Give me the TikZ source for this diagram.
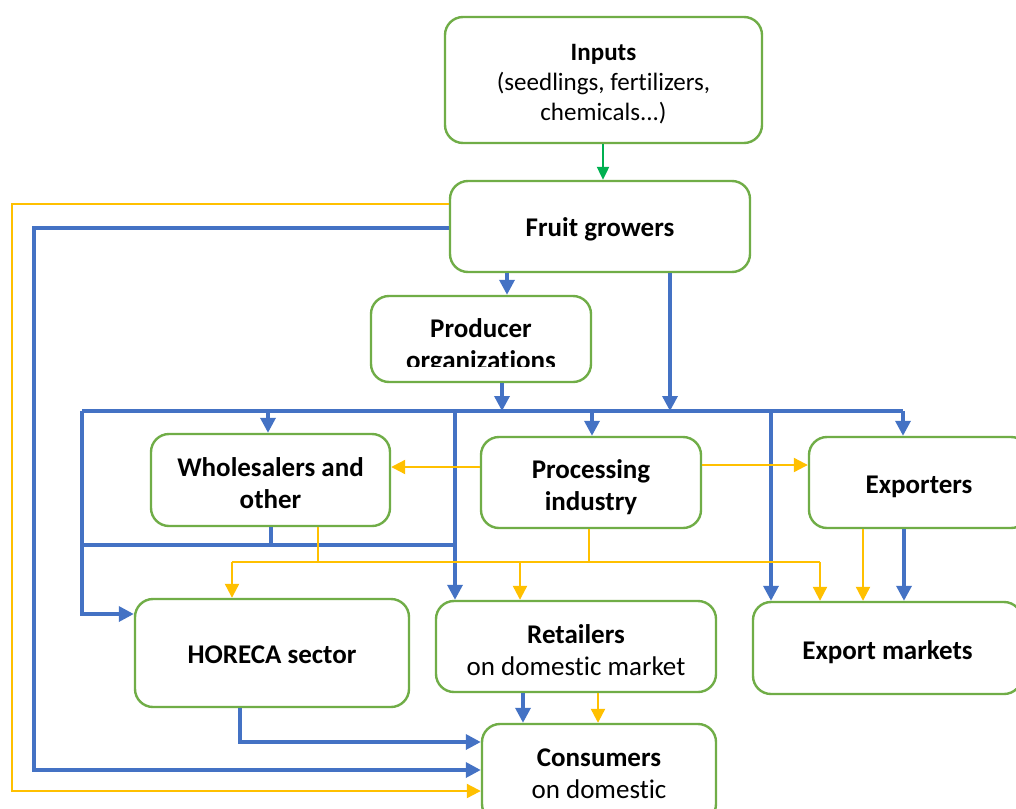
\documentclass[tikz,border=0pt]{standalone}
\usepackage{fontspec}
\setmainfont{Carlito}[RawFeature={-liga}]
\usetikzlibrary{arrows.meta}
\definecolor{boxgreen}{HTML}{70AD47}
\definecolor{flowblue}{HTML}{4472C4}
\definecolor{flowyellow}{HTML}{FFC000}
\definecolor{flowgreen}{HTML}{00B050}
\tikzset{
  box/.style={draw=boxgreen, line width=2.4pt, rounded corners=18pt, fill=white, inner sep=0pt},
  txt/.style={align=center, inner sep=0pt, font=\fontsize{27}{32}\selectfont},
  smalltxt/.style={align=center, inner sep=0pt, font=\fontsize{25}{30}\selectfont},
  bl/.style={draw=flowblue, line width=3.4pt},
  yl/.style={draw=flowyellow, line width=2.2pt},
  blarrow/.style={bl, -{Triangle[width=15pt,length=15pt]}},
  ylarrow/.style={yl, -{Triangle[width=14pt,length=14pt]}},
  grarrow/.style={draw=flowgreen, line width=2.2pt, -{Triangle[width=12pt,length=13pt]}},
}
\begin{document}
\begin{tikzpicture}[x=1pt,y=-1pt]
\useasboundingbox (0,0) rectangle (1016,808);
\clip (0,0) rectangle (1016,808);
\fill[white] (0,0) rectangle (1016,808);

% boxes
\node[box, minimum width=317pt, minimum height=126pt] (inputs) at (603.5,80) {};
\node[box, minimum width=300pt, minimum height=91pt] (fruit) at (600,226.5) {};
\node[box, minimum width=220pt, minimum height=86pt] (prod) at (481,339) {};
\node[box, minimum width=239pt, minimum height=92pt] (whole) at (270.5,480) {};
\node[box, minimum width=220pt, minimum height=91pt] (proc) at (591,482.5) {};
\node[box, minimum width=220pt, minimum height=91pt] (exp) at (919,482.5) {};
\node[box, minimum width=274pt, minimum height=108pt] (horeca) at (272,653) {};
\node[box, minimum width=280pt, minimum height=91pt] (retail) at (576,646.5) {};
\node[box, minimum width=269pt, minimum height=92pt] (expm) at (887.5,648) {};
\node[box, minimum width=234pt, minimum height=98pt] (cons) at (599,773) {};

% box texts
\node[smalltxt] (inputs-t) at ([yshift=-4pt]inputs.center)
  {\textbf{Inputs}\\(seedlings, fertilizers,\\chemicals...)};
\node[txt] (fruit-t) at ([yshift=-3pt]fruit.center) {\textbf{Fruit growers}};
\begin{scope}
  \clip (371,296) rectangle (591,366);
  \node[txt, font=\fontsize{27}{32}\selectfont\bfseries] (prod-t) at (481,346)
    {Producer\\organizations};
\end{scope}
\node[txt] (whole-t) at ([yshift=-3.5pt]whole.center) {\textbf{Wholesalers and}\\\textbf{other}};
\node[txt] (proc-t) at ([yshift=-5pt]proc.center) {\textbf{Processing}\\\textbf{industry}};
\node[txt] (exp-t) at ([yshift=-4pt]exp.center) {\textbf{Exporters}};
\node[txt] (horeca-t) at ([yshift=-2pt]horeca.center) {\textbf{HORECA sector}};
\node[txt] (retail-t) at ([yshift=-3.5pt]retail.center) {\textbf{Retailers}\\on domestic market};
\node[txt] (expm-t) at ([yshift=-4pt]expm.center) {\textbf{Export markets}};
\node[txt] (cons-t) at ([yshift=-1pt]cons.center) {\textbf{Consumers}\\on domestic};

% junction points of the distribution lines
\coordinate (busL) at (82,411);
\coordinate (busR) at (903,411);
\coordinate (wjL) at (82,545);
\coordinate (wjR) at (455,545);
\coordinate (yjL) at (232,562);
\coordinate (yjR) at (820,562);

% inputs to growers
\draw[grarrow] (603,0 |- inputs.south) -- (603,0 |- fruit.north);

% growers directly to consumers
\draw[ylarrow] (fruit.west |- 0,204) -- (12,204) -- (12,791) -- (cons.west |- 0,791);
\draw[blarrow] (fruit.west |- 0,228) -- (34,228) -- (34,770) -- (cons.west |- 0,770);

% growers to producer organizations and to the distribution line
\draw[blarrow] (507,0 |- fruit.south) -- (507,0 |- prod.north);
\draw[blarrow] (670,0 |- fruit.south) -- (670,0 |- busL);
\draw[blarrow] (502,0 |- prod.south) -- (502,0 |- busL);

% blue distribution line
\draw[bl] (busL) -- (busR);
\draw[blarrow] (268,0 |- busL) -- (268,0 |- whole.north);
\draw[blarrow] (592,0 |- busL) -- (592,0 |- proc.north);
\draw[blarrow] (busR) -- (busR |- exp.north);
\draw[blarrow] (busL) |- (horeca.west |- 0,614);
\draw[bl] (455,0 |- busL) -- (wjR);
\draw[blarrow] (wjR) -- (455,0 |- retail.north);
\draw[blarrow] (771,0 |- busL) -- (771,0 |- expm.north);

% wholesalers joining the blue line
\draw[bl] (271,0 |- whole.south) -- (271,0 |- wjL);
\draw[bl] (wjL) -- (wjR);

% processing industry to wholesalers and exporters
\draw[ylarrow] (proc.west |- 0,467) -- (whole.east |- 0,467);
\draw[ylarrow] (proc.east |- 0,465) -- (exp.west |- 0,465);

% yellow distribution line
\draw[yl] (318,0 |- whole.south) -- (318,0 |- yjL);
\draw[yl] (589,0 |- proc.south) -- (589,0 |- yjL);
\draw[yl] (yjL) -- (yjR);
\draw[ylarrow] (yjL) -- (yjL |- horeca.north);
\draw[ylarrow] (520,0 |- yjL) -- (520,0 |- retail.north);
\draw[ylarrow] (yjR) -- (yjR |- expm.north);

% exporters to export markets
\draw[ylarrow] (863,0 |- exp.south) -- (863,0 |- expm.north);
\draw[blarrow] (904,0 |- exp.south) -- (904,0 |- expm.north);

% HORECA and retailers to consumers
\draw[blarrow] (240,0 |- horeca.south) |- (cons.west |- 0,742);
\draw[blarrow] (523,0 |- retail.south) -- (523,0 |- cons.north);
\draw[ylarrow] (598,0 |- retail.south) -- (598,0 |- cons.north);
\end{tikzpicture}
\end{document}
